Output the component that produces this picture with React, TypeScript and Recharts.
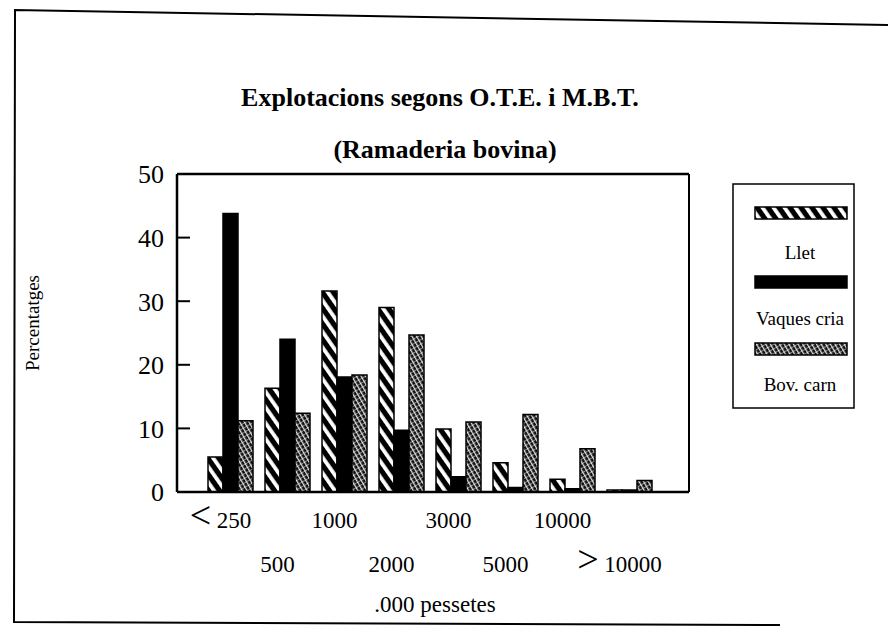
import React from 'react';
import { BarChart, Bar, XAxis, YAxis } from 'recharts';

const categories = ['< 250', '500', '1000', '2000', '3000', '5000', '10000', '> 10000'];
const seriesNames = ['Llet', 'Vaques cria', 'Bov. carn'];
const llet = [5.5, 16.3, 31.6, 29.0, 9.9, 4.6, 2.0, 0.3];
const vaques = [43.8, 24.0, 18.1, 9.7, 2.4, 0.7, 0.5, 0.3];
const bov = [11.2, 12.4, 18.4, 24.7, 11.0, 12.2, 6.8, 1.8];
const yTicks = [0, 10, 20, 30, 40, 50];

const titleText = 'Explotacions segons O.T.E. i M.B.T.';
const subtitleText = '(Ramaderia bovina)';
const yLabel = 'Percentatges';
const xLabel = '.000 pessetes';

const data = categories.map((c, i) => ({ cat: c, llet: llet[i], vaques: vaques[i], bov: bov[i] }));

const FONT = '"Liberation Serif", "Times New Roman", serif';
const fills = ['url(#pLlet)', '#000', 'url(#pBov)'];

const YTick = (props: any) => {
  const { x, y, payload } = props;
  return (
    <g>
      <line x1={x} y1={y} x2={x + 13} y2={y} stroke="#000" strokeWidth={2} />
      <text x={x - 13} y={y} dy="0.36em" textAnchor="end" fontSize={26} fontFamily={FONT} fill="#000">
        {payload.value}
      </text>
    </g>
  );
};

const XTick = (props: any) => {
  const { x, y, payload } = props;
  const label = String(payload.value);
  const idx = categories.indexOf(label);
  const ty = y + (idx % 2 === 0 ? 36 : 80);
  const m = label.match(/^([<>])\s*(.*)$/);
  return (
    <text x={x - 10} y={ty} textAnchor="middle" fontSize={23} fontFamily={FONT} fill="#000">
      {m ? (
        <>
          <tspan fontSize={38}>{m[1]}</tspan>
          <tspan>{' ' + m[2]}</tspan>
        </>
      ) : (
        label
      )}
    </text>
  );
};

const Defs = () => (
  <svg width={0} height={0} style={{ position: 'absolute' }}>
    <defs>
      <pattern id="pLlet" patternUnits="userSpaceOnUse" width="9" height="9" patternTransform="rotate(-35)">
        <rect width="9" height="9" fill="#000" />
        <rect x="0" y="0" width="3.8" height="9" fill="#fff" />
      </pattern>
      <pattern id="pBov" patternUnits="userSpaceOnUse" width="4" height="4" patternTransform="rotate(-30)">
        <rect width="4" height="4" fill="#111" />
        <rect x="0" y="0" width="1.3" height="4" fill="#fff" opacity="0.85" />
        <rect x="0" y="0" width="4" height="0.8" fill="#fff" opacity="0.6" />
      </pattern>
    </defs>
  </svg>
);

const LegendBox = () => {
  const swatchY = [24, 93, 160];
  const labelY = [76, 142, 208];
  return (
    <svg width={123} height={226} style={{ position: 'absolute', left: 732, top: 183 }}>
      <rect x={1} y={1} width={121} height={224} fill="#fff" stroke="#000" strokeWidth={1.5} />
      {seriesNames.map((n, i) => (
        <g key={n}>
          <rect x={23} y={swatchY[i]} width={92} height={12} fill={fills[i]} stroke="#000" strokeWidth={1.5} />
          <text x={68} y={labelY[i]} textAnchor="middle" fontSize={19} fontFamily={FONT} fill="#000">
            {n}
          </text>
        </g>
      ))}
    </svg>
  );
};

export default function App() {
  return (
    <div style={{ position: 'absolute', left: 0, top: 0, width: 888, height: 630, background: '#fff', overflow: 'hidden' }}>
      <Defs />
      <BarChart
        width={888}
        height={630}
        data={data}
        margin={{ top: 173, right: 198, bottom: 108, left: 117 }}
        barGap={0}
        barSize={15}
      >
        <XAxis
          dataKey="cat"
          interval={0}
          height={30}
          padding={{ left: 25, right: 31 }}
          tickLine={false}
          tickSize={0}
          tickMargin={0}
          tick={<XTick />}
          axisLine={{ stroke: '#000', strokeWidth: 2.5 }}
        />
        <XAxis
          xAxisId="top"
          dataKey="cat"
          orientation="top"
          height={1}
          interval={0}
          tick={false}
          tickLine={false}
          padding={{ left: 25, right: 31 }}
          axisLine={{ stroke: '#000', strokeWidth: 2.5 }}
        />
        <YAxis
          domain={[0, 50]}
          ticks={yTicks}
          width={60}
          tickLine={false}
          tickSize={0}
          tickMargin={0}
          tick={<YTick />}
          axisLine={{ stroke: '#000', strokeWidth: 2.5 }}
        />
        <YAxis
          yAxisId="r"
          orientation="right"
          domain={[0, 50]}
          width={1}
          tick={false}
          tickLine={false}
          axisLine={{ stroke: '#000', strokeWidth: 2 }}
        />
        <Bar dataKey="llet" name={seriesNames[0]} fill={fills[0]} stroke="#000" strokeWidth={1.5} isAnimationActive={false} />
        <Bar dataKey="vaques" name={seriesNames[1]} fill={fills[1]} stroke="#000" strokeWidth={1.5} isAnimationActive={false} />
        <Bar dataKey="bov" name={seriesNames[2]} fill={fills[2]} stroke="#000" strokeWidth={1.5} isAnimationActive={false} />
      </BarChart>
      <svg width={888} height={630} style={{ position: 'absolute', left: 0, top: 0, pointerEvents: 'none' }}>
        <path d="M 888 25 L 15 10 L 14 622 L 780 625" fill="none" stroke="#000" strokeWidth={2} />
        <text x={440} y={106} textAnchor="middle" fontSize={26} fontWeight="bold" fontFamily={FONT} fill="#000">
          {titleText}
        </text>
        <text x={445} y={158} textAnchor="middle" fontSize={26} fontWeight="bold" fontFamily={FONT} fill="#000">
          {subtitleText}
        </text>
        <text transform="translate(39,323) rotate(-90)" textAnchor="middle" fontSize={19} fontFamily={FONT} fill="#000">
          {yLabel}
        </text>
        <text x={435} y={612} textAnchor="middle" fontSize={23} fontFamily={FONT} fill="#000">
          {xLabel}
        </text>
      </svg>
      <LegendBox />
    </div>
  );
}
